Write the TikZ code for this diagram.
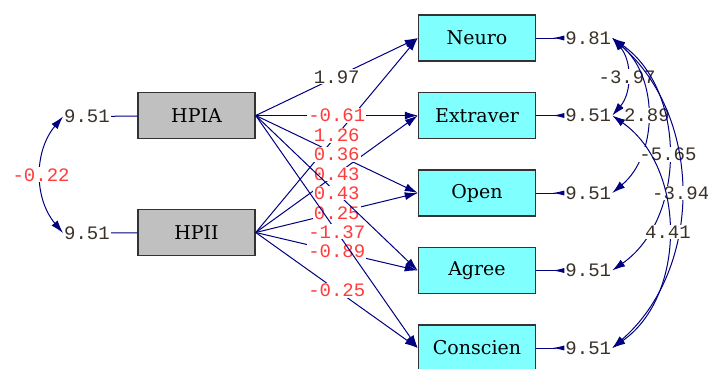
\documentclass[tikz,border=0pt]{standalone}
\usepackage{fontspec}
\setmainfont{DejaVu Serif}
\newfontfamily\valfont{Liberation Mono}
\usetikzlibrary{arrows.meta}

\definecolor{pathblue}{HTML}{000080}
\definecolor{boxcyan}{HTML}{80FFFF}
\definecolor{boxgray}{HTML}{C0C0C0}
\definecolor{valred}{HTML}{FF3B3B}
\definecolor{valdark}{HTML}{3A3128}

\tikzset{
  var/.style={draw=black!80,line width=1.5pt,minimum width=117pt,minimum height=46pt,
    font=\fontsize{19}{19}\selectfont},
  xvar/.style={var,fill=boxgray},
  yvar/.style={var,fill=boxcyan},
  val/.style={fill=white,inner sep=1pt,text=valdark,font=\valfont\fontsize{19}{19}\selectfont},
  nsval/.style={val,text=valred},
  effect/.style={pathblue,line width=1pt,-{Latex[length=13pt,width=8pt]}},
  errline/.style={pathblue,line width=1pt},
  errarrow/.style={errline,-{Latex[reversed,length=12pt,width=5pt]}},
  cov/.style={pathblue,line width=1pt,{Latex[length=13pt,width=8pt]}-{Latex[length=13pt,width=8pt]}}
}

\begin{document}
\begin{tikzpicture}[x=1pt,y=-1pt]
\useasboundingbox (0,0) rectangle (708,368);

\node[xvar] (hpia) at (196.5,115.5) {HPIA};
\node[xvar] (hpii) at (196.5,232.5) {HPII};

\node[yvar] (neuro)    at (477,38)    {Neuro};
\node[yvar] (extraver) at (477,115.5) {Extraver};
\node[yvar] (open)     at (477,193)   {Open};
\node[yvar] (agree)    at (477,270.5) {Agree};
\node[yvar] (conscien) at (477,348)   {Conscien};

% error variances
\node[val] (e-hpia) at (87,116.5) {9.51};
\node[val] (e-hpii) at (87,233) {9.51};
\draw[errline] (e-hpia) -- (hpia);
\draw[errline] (e-hpii) -- (hpii);

\foreach \n/\v in {neuro/9.81,extraver/9.51,open/9.51,agree/9.51,conscien/9.51}{
  \node[val] (e-\n) at ([xshift=52pt]\n.east) {\v};
  \draw[errarrow] (\n) -- (e-\n);
}

% paths
\foreach \s/\t/\v/\c in {hpia/neuro/1.97/val,hpii/neuro/1.26/nsval,
    hpia/extraver/-0.61/nsval,hpii/extraver/0.43/nsval,
    hpia/open/0.36/nsval,hpii/open/0.25/nsval,
    hpia/agree/0.43/nsval,hpii/agree/-0.89/nsval,
    hpia/conscien/-1.37/nsval,hpii/conscien/-0.25/nsval}
  \draw[effect] (\s.east) -- node[\c]{\v} (\t.west);

% covariances
\draw[cov] (e-hpia.west) to[bend right=40] node[nsval]{-0.22} (e-hpii.west);

\draw[cov] (e-neuro.east) to[bend left=41] node[val]{-3.97} (e-extraver.east);
\draw[cov] (e-neuro.east) to[bend left=50] node[val]{2.89} (e-open.east);
\draw[cov] (e-neuro.east) to[bend left=55] node[val]{-5.65} (e-agree.east);
\draw[cov] (e-neuro.east) to[bend left=49] node[val]{-3.94} (e-conscien.east);
\draw[cov] (e-extraver.east) to[bend left=55] node[val]{4.41} (e-conscien.east);

\end{tikzpicture}
\end{document}
